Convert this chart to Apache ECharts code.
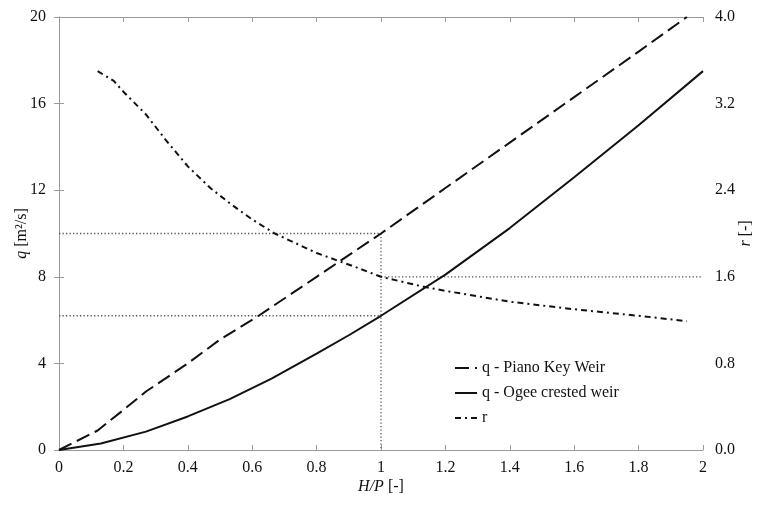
<!DOCTYPE html>
<html>
<head>
<meta charset="utf-8">
<script src="https://cdn.jsdelivr.net/npm/echarts@6/dist/echarts.min.js"></script>
<style>
  html, body { margin: 0; padding: 0; background: #fff; }
  #chart { width: 759px; height: 505px; }
</style>
</head>
<body>
<div id="chart"></div>
<script>
// H/P and discharge values
var pkX = [0, 0.12, 0.2, 0.27, 0.4, 0.5, 0.62, 0.8, 1.0, 1.2, 1.4, 1.6, 1.8, 1.95];
var pkQ = [0, 0.9, 1.85, 2.7, 4.0, 5.1, 6.2, 8.0, 10.0, 12.1, 14.2, 16.3, 18.4, 20.0];

var ogX = [0, 0.13, 0.27, 0.4, 0.53, 0.66, 0.8, 0.9, 1.0, 1.2, 1.4, 1.6, 1.8, 2.0];
var ogQ = [0, 0.3, 0.85, 1.55, 2.35, 3.3, 4.45, 5.3, 6.2, 8.1, 10.25, 12.6, 15.0, 17.5];

var rX = [0.12, 0.17, 0.2, 0.27, 0.33, 0.4, 0.47, 0.53, 0.6, 0.67, 0.8, 0.93, 1.0, 1.13, 1.2, 1.4, 1.6, 1.8, 1.95];
var rV = [3.5, 3.41, 3.31, 3.1, 2.87, 2.62, 2.42, 2.28, 2.13, 2.0, 1.82, 1.68, 1.6, 1.51, 1.47, 1.37, 1.3, 1.24, 1.19];

// dotted guide lines at H/P = 1
var guideX = 1;
var guidePk = 10;
var guideOg = 6.2;
var guideR = 1.6;

function pairs(xs, ys) {
    var out = [];
    for (var i = 0; i < xs.length; i++) out.push([xs[i], ys[i]]);
    return out;
}

var font = '"Liberation Serif", "Times New Roman", serif';
var axisGray = '#9a9a9a';
var ink = '#111';

var myChart = echarts.init(document.getElementById('chart'));

var dotted = { color: '#555', width: 1.3, type: [1.3, 2.2] };
var italic = { i: { fontFamily: font, fontSize: 16, fontStyle: 'italic', color: ink } };

var option = {
    backgroundColor: '#fff',
    animation: false,
    textStyle: { fontFamily: font, color: ink },
    grid: { left: 59, right: 56, top: 17, bottom: 55, containLabel: false, outerBoundsMode: 'none' },
    legend: {
        orient: 'vertical',
        left: 454,
        top: 360,
        padding: 0,
        itemWidth: 22,
        itemHeight: 14,
        itemGap: 9,
        itemStyle: { opacity: 0 },
        textStyle: { fontFamily: font, fontSize: 16, color: ink },
        data: ['q - Piano Key Weir', 'q - Ogee crested weir', 'r']
    },
    xAxis: [{
        type: 'value',
        min: 0, max: 2, interval: 0.2,
        name: '{i|H/P} [-]',
        nameLocation: 'middle',
        nameGap: 29,
        nameMoveOverlap: false,
        nameTextStyle: { fontFamily: font, fontSize: 16, color: ink, rich: italic },
        axisLine: { lineStyle: { color: axisGray, width: 1 } },
        axisTick: { inside: true, length: 5, lineStyle: { color: axisGray } },
        splitLine: { show: false },
        axisLabel: { margin: 10, fontFamily: font, fontSize: 16, color: ink }
    }, {
        type: 'value',
        position: 'top',
        min: 0, max: 2, interval: 0.2,
        axisLine: { onZero: false, lineStyle: { color: axisGray, width: 1 } },
        axisTick: { inside: true, length: 5, lineStyle: { color: axisGray } },
        axisLabel: { show: false },
        splitLine: { show: false }
    }],
    yAxis: [{
        type: 'value',
        min: 0, max: 20, interval: 4,
        name: '{i|q} [m²/s]',
        nameLocation: 'middle',
        nameGap: 29,
        nameMoveOverlap: false,
        nameTextStyle: { fontFamily: font, fontSize: 16, color: ink, rich: italic },
        axisLine: { show: true, lineStyle: { color: axisGray, width: 1 } },
        axisTick: { show: true, inside: true, length: 5, lineStyle: { color: axisGray } },
        splitLine: { show: false },
        axisLabel: { margin: 13, fontFamily: font, fontSize: 16, color: ink }
    }, {
        type: 'value',
        position: 'right',
        min: 0, max: 4, interval: 0.8,
        name: '{i|r} [-]',
        nameLocation: 'middle',
        nameGap: 35,
        nameMoveOverlap: false,
        nameTextStyle: { fontFamily: font, fontSize: 16, color: ink, rich: italic },
        axisLine: { show: true, lineStyle: { color: axisGray, width: 1 } },
        axisTick: { show: true, inside: true, length: 5, lineStyle: { color: axisGray } },
        splitLine: { show: false },
        axisLabel: {
            margin: 12, fontFamily: font, fontSize: 16, color: ink,
            formatter: function (v) { return v.toFixed(1); }
        }
    }],
    series: [
        {
            name: 'guide-pk', type: 'line', silent: true, symbol: 'none',
            xAxisIndex: 0, yAxisIndex: 0,
            lineStyle: dotted, z: 1,
            data: [[0, guidePk], [guideX, guidePk], [guideX, 0]]
        },
        {
            name: 'guide-og', type: 'line', silent: true, symbol: 'none',
            xAxisIndex: 0, yAxisIndex: 0,
            lineStyle: dotted, z: 1,
            data: [[0, guideOg], [guideX, guideOg]]
        },
        {
            name: 'guide-r', type: 'line', silent: true, symbol: 'none',
            xAxisIndex: 0, yAxisIndex: 1,
            lineStyle: dotted, z: 1,
            data: [[guideX, guideR], [2, guideR]]
        },
        {
            name: 'q - Piano Key Weir', type: 'line', symbol: 'none',
            xAxisIndex: 0, yAxisIndex: 0,
            itemStyle: { color: ink },
            lineStyle: { color: ink, width: 2, type: [14, 6] },
            data: pairs(pkX, pkQ)
        },
        {
            name: 'q - Ogee crested weir', type: 'line', symbol: 'none',
            xAxisIndex: 0, yAxisIndex: 0,
            itemStyle: { color: ink },
            lineStyle: { color: ink, width: 2 },
            data: pairs(ogX, ogQ)
        },
        {
            name: 'r', type: 'line', symbol: 'none',
            xAxisIndex: 0, yAxisIndex: 1,
            itemStyle: { color: ink },
            lineStyle: { color: ink, width: 2, type: [6, 4, 2, 4] },
            data: pairs(rX, rV)
        }
    ]
};

myChart.setOption(option);
</script>
</body>
</html>
